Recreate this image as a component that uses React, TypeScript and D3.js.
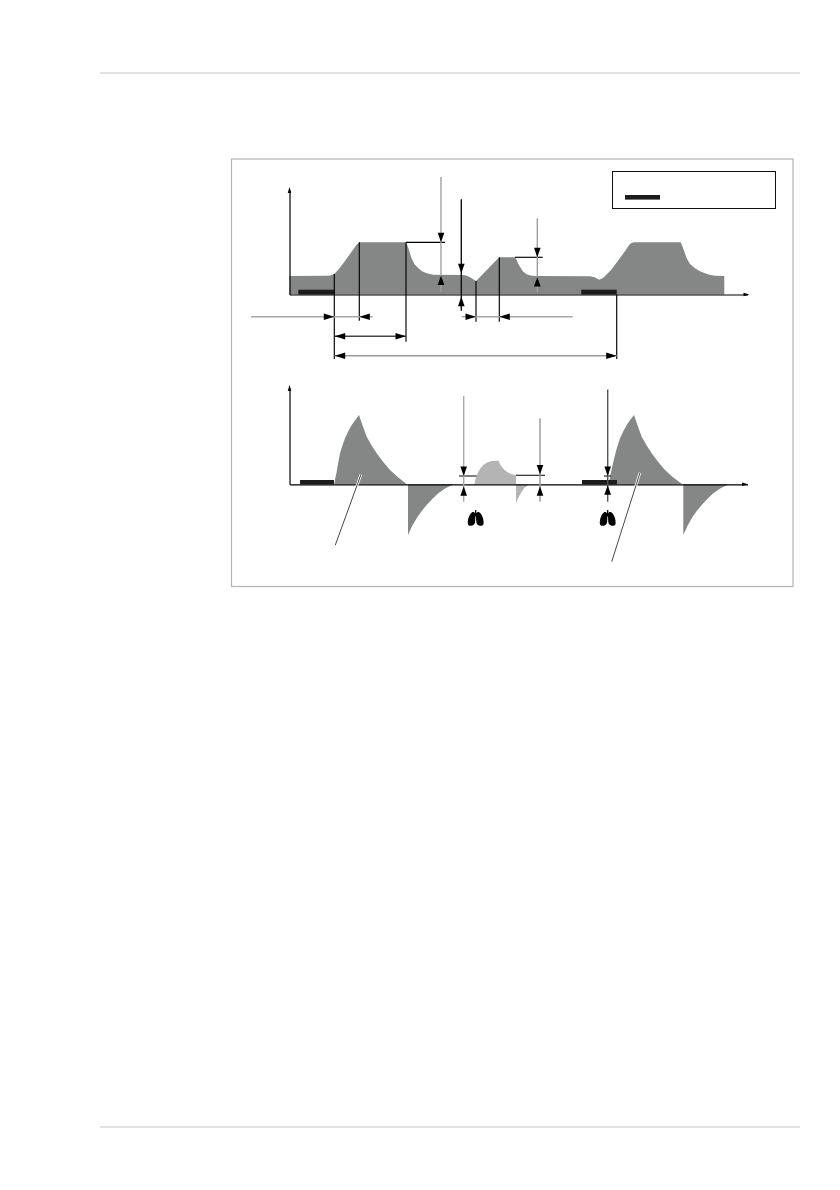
import React, { useEffect, useRef } from "react";
import * as d3 from "d3";

type Pt = [number, number];
type Seg = [number, number, number];

// pressure curve, [time, pressure]
const pressureCurve: Pt[] = [
  [0, 1.85], [3.7, 1.87], [4.05, 1.9], [4.48, 2.05], [4.9, 2.5], [5.55, 3.35], [6.4, 4.55], [6.75, 5.02], [6.98, 5.22],
  [11.65, 5.22], [11.85, 4.75], [12.2, 3.62], [12.5, 3.02], [12.88, 2.62], [13.25, 2.32], [13.72, 2.12], [14.38, 1.98],
  [17.38, 1.95], [17.75, 1.88], [18.05, 1.72], [18.65, 1.35], [19.1, 1.8], [20.6, 3.35], [20.98, 3.72],
  [22.55, 3.72], [22.72, 3.45], [22.85, 3.1], [23.05, 2.78], [23.35, 2.3], [23.72, 2.02], [24.1, 1.9], [24.55, 1.85],
  [30.05, 1.82], [30.5, 1.72], [30.98, 1.48], [31.38, 1.68], [32.2, 2.5], [33.6, 4.4], [34.0, 5.0], [34.22, 5.18], [34.5, 5.22],
  [39.12, 5.22], [39.3, 4.8], [39.72, 3.62], [40.05, 3.05], [40.55, 2.62], [41.0, 2.35], [41.55, 2.12], [42.0, 1.98], [42.55, 1.88], [43.48, 1.85],
];

// flow lobes, [time, flow]
const flowBreath1: Pt[] = [
  [4.48, 0], [4.6, 0.7], [4.72, 1.26], [4.88, 2.2], [5.05, 3.1], [5.3, 3.9], [5.55, 4.6], [5.88, 5.3], [6.22, 5.93], [6.6, 6.45], [6.95, 6.93],
  [7.3, 5.9], [7.72, 4.76], [8.2, 3.9], [8.72, 3.1], [9.35, 2.25], [10.05, 1.43], [10.85, 0.7], [11.72, 0],
];
const flowOut1: Pt[] = [
  [11.85, -5.07], [12.25, -4.2], [12.72, -3.4], [13.2, -2.7], [13.72, -2.07], [14.3, -1.45], [14.88, -0.9], [15.6, -0.4], [16.32, -0.05],
];
const assistIn: Pt[] = [
  [18.48, 0], [18.65, 0.7], [18.88, 1.26], [19.1, 1.6], [19.38, 1.93], [19.8, 2.2], [20.22, 2.33], [20.92, 2.36],
  [21.05, 2.0], [21.22, 1.76], [21.5, 1.42], [21.88, 1.16], [22.25, 1.0], [22.65, 0.9],
];
const assistOut: Pt[] = [[22.65, -1.9], [22.9, -1.3], [23.22, -0.74], [23.5, -0.35], [23.88, -0.07]];
const flowBreath2: Pt[] = [
  [31.92, 0], [32.15, 1.2], [32.38, 2.26], [32.7, 3.5], [33.05, 4.6], [33.38, 5.3], [33.72, 5.93], [34.08, 6.45], [34.45, 6.93],
  [34.8, 5.9], [35.22, 4.76], [35.7, 3.9], [36.22, 3.1], [36.85, 2.25], [37.55, 1.43], [38.35, 0.7], [39.28, 0],
];
const flowOut2: Pt[] = [
  [39.38, -5.07], [39.78, -4.2], [40.22, -3.4], [40.7, -2.7], [41.22, -2.07], [41.8, -1.45], [42.38, -0.9], [43.1, -0.4], [43.82, -0.05],
];

// dark trigger bars, [from, to]
const pressureBars: Pt[] = [[0.88, 4.48], [29.18, 32.72]];
const flowBars: Pt[] = [[1.05, 4.45], [29.25, 32.75]];

// dimension helper lines
const pressureDrops: Seg[] = [ // [time, from, to]
  [4.48, 2.04, -6.45], [6.98, 5.22, -2.62], [11.65, 5.22, -4.72],
  [18.65, 1.35, -2.72], [20.98, 3.72, -2.72], [32.72, 0, -6.45],
];
const pressureLedgers: Seg[] = [[5.22, 11.65, 15.55], [3.72, 22.55, 25.32]]; // [value, from, to]
const flowLedgers: Seg[] = [[0.83, 16.95, 18.72], [0.9, 22.65, 25.55], [0.83, 31.45, 32.15]];

// measures, vertical: [time, top, bottom, tipDown, tipUp]
const pressureVerticals = [
  [15.15, 11.75, 0.28, 5.22, 1.9, "#a0a0a0"],
  [17.18, 9.52, -1.62, 2.12, -0.22, "#111"],
  [24.78, 7.62, 0.22, 3.72, 1.75, "#a0a0a0"],
] as const;
const flowVerticals = [
  [17.42, 8.83, -1.74, 0.83, -0.2, "#aaa"],
  [25.05, 6.6, -1.74, 0.98, -0.2, "#999"],
  [31.82, 9.49, -1.74, 0.83, -0.1, "#555"],
] as const;

// measures, horizontal: [value, start, end, tipRight, tipLeft]
const pressureHorizontals = [
  [-2.22, -3.85, 8.32, 4.48, 6.98, "#a6a6a6"],
  [-4.18, 4.52, 11.65, 11.65, 4.52, "#444"],
  [-6.12, 4.52, 32.72, 32.72, 4.52, "#999"],
  [-2.22, 17.22, 28.32, 18.65, 20.98, "#a6a6a6"],
] as const;

// leader lines [t1, v1, t2, v2], lungs at time
const flowLeaders: [number, number, number, number][] = [
  [4.58, -6.08, 7.15, 0.99],
  [32.22, -7.74, 35.05, 1.16],
];
const lungTimes = [18.62, 31.82];
const lungFlow = -3.37;

const fill = "#858787";
const fillLight = "#b4b4b4";
const barColor = "#1c1c1c";

const lungPath =
  "M-0.6,-8 L0.6,-8 L0.7,-4.6 C1.6,-6.6 3.6,-6.4 5,-4.4 C7,-1.6 8.2,2.4 7.9,5.4 C7.7,8 5.4,8.2 3.2,7.4 C1.4,6.8 0.7,5.6 0.55,3.6 L0.3,-1.5 L-0.3,-1.5 L-0.55,3.6 C-0.7,5.6 -1.4,6.8 -3.2,7.4 C-5.4,8.2 -7.7,8 -7.9,5.4 C-8.2,2.4 -7,-1.6 -5,-4.4 C-3.6,-6.4 -1.6,-6.6 -0.7,-4.6 Z";

const App: React.FC = () => {
  const ref = useRef<SVGSVGElement | null>(null);

  useEffect(() => {
    if (!ref.current) return;
    const svg = d3.select(ref.current);
    svg.selectAll("*").remove();

    const x = d3.scaleLinear().domain([0, 45.8]).range([289.5, 747.5]);
    const yP = d3.scaleLinear().domain([0, 10.45]).range([294.5, 190]);
    const yF = d3.scaleLinear().domain([0, 9.63]).range([484.3, 388]);

    // page rules and frame
    svg.append("line").attr("x1", 100).attr("x2", 800).attr("y1", 73).attr("y2", 73)
      .attr("stroke", "#d9d9d9").attr("stroke-width", 1.6);
    svg.append("line").attr("x1", 100).attr("x2", 800).attr("y1", 1127).attr("y2", 1127)
      .attr("stroke", "#d9d9d9").attr("stroke-width", 1.6);
    svg.append("rect").attr("x", 231.5).attr("y", 159).attr("width", 561.5).attr("height", 427.5)
      .attr("fill", "white").attr("stroke", "#b4b4b4").attr("stroke-width", 1.2);

    const drawArea = (pts: Pt[], y: d3.ScaleLinear<number, number>, color: string) => {
      const area = d3.area<Pt>()
        .x((d) => x(d[0]))
        .y0(y(0))
        .y1((d) => y(d[1]));
      svg.append("path").attr("d", area(pts)).attr("fill", color);
    };

    drawArea(pressureCurve, yP, fill);
    [flowBreath1, flowOut1, flowBreath2, flowOut2].forEach((p) => drawArea(p, yF, fill));
    [assistIn, assistOut].forEach((p) => drawArea(p, yF, fillLight));

    const bar = (b: Pt, y0: number, h: number) =>
      svg.append("rect").attr("x", x(b[0])).attr("width", x(b[1]) - x(b[0]))
        .attr("y", y0 - h).attr("height", h).attr("fill", barColor);
    pressureBars.forEach((b) => bar(b, yP(0), 4.8));
    flowBars.forEach((b) => bar(b, yF(0), 4.3));

    // legend
    svg.append("rect").attr("x", 612.5).attr("y", 171.5).attr("width", 163).attr("height", 37)
      .attr("fill", "white").attr("stroke", "#111").attr("stroke-width", 1);
    svg.append("rect").attr("x", 625).attr("y", 195).attr("width", 35).attr("height", 4.6).attr("fill", barColor);

    // axes
    const axis = (g: d3.Selection<SVGGElement, unknown, null, undefined>) => {
      g.selectAll("path").attr("stroke", "#000").attr("stroke-width", 1.2);
    };
    svg.append("g").attr("transform", `translate(0,${yP(0)})`)
      .call(d3.axisBottom(x).tickValues([]).tickSize(0)).call(axis);
    svg.append("g").attr("transform", `translate(${x(0)},0)`)
      .call(d3.axisLeft(yP).tickValues([]).tickSize(0)).call(axis);
    svg.append("g").attr("transform", `translate(0,${yF(0)})`)
      .call(d3.axisBottom(x).tickValues([]).tickSize(0)).call(axis);
    svg.append("g").attr("transform", `translate(${x(0)},0)`)
      .call(d3.axisLeft(yF).tickValues([]).tickSize(0)).call(axis);

    // dir: 0 = tip up, 1 = tip right, 2 = tip down, 3 = tip left
    const head = (px: number, py: number, dir: number, len: number, w: number, color: string) => {
      svg.append("path")
        .attr("d", `M0,0 L${-w / 2},${len} L${w / 2},${len} Z`)
        .attr("transform", `translate(${px},${py}) rotate(${dir * 90})`)
        .attr("fill", color);
    };
    head(x(0), yP(10.45) - 3, 0, 6, 3.5, "#000");
    head(x(0), yF(9.63) - 3, 0, 6, 3.5, "#000");
    head(x(45.8) + 2, yP(0), 1, 6, 3.5, "#000");
    head(x(45.8) + 0.5, yF(0), 1, 6, 3.5, "#000");

    const line = (x1: number, y1: number, x2: number, y2: number, color = "#000", w = 1.15) =>
      svg.append("line").attr("x1", x1).attr("y1", y1).attr("x2", x2).attr("y2", y2)
        .attr("stroke", color).attr("stroke-width", w);

    pressureDrops.forEach(([t, a, b]) => line(x(t), yP(a), x(t), yP(b)));
    pressureLedgers.forEach(([v, a, b]) => line(x(a), yP(v), x(b), yP(v)));
    flowLedgers.forEach(([v, a, b]) => line(x(a), yF(v), x(b), yF(v), "#222"));

    const vertical = (
      m: readonly [number, number, number, number, number, string],
      y: d3.ScaleLinear<number, number>
    ) => {
      const [t, top, bottom, tipDown, tipUp, color] = m;
      line(x(t), y(top), x(t), y(bottom), color, 1.4);
      head(x(t), y(tipDown), 2, 9.5, 6.6, "#000");
      head(x(t), y(tipUp), 0, 9.5, 6.6, "#000");
    };
    pressureVerticals.forEach((m) => vertical(m, yP));
    flowVerticals.forEach((m) => vertical(m, yF));

    pressureHorizontals.forEach(([v, a, b, tipR, tipL, color]) => {
      line(x(a), yP(v), x(b), yP(v), color, 1.4);
      head(x(tipR), yP(v), 1, 10.5, 6.4, "#000");
      head(x(tipL), yP(v), 3, 10.5, 6.4, "#000");
    });

    flowLeaders.forEach(([t1, v1, t2, v2]) => {
      line(x(t1), yF(v1), x(t2), yF(v2), "#fff", 2.6);
      line(x(t1), yF(v1), x(t2), yF(v2), "#333", 0.9);
    });

    lungTimes.forEach((t) => {
      svg.append("path").attr("d", lungPath)
        .attr("transform", `translate(${x(t)},${yF(lungFlow)})`)
        .attr("fill", "#000");
    });
  }, []);

  return (
    <svg
      ref={ref}
      width={840}
      height={1190}
      style={{ position: "absolute", left: 0, top: 0, background: "white" }}
    />
  );
};

export default App;
